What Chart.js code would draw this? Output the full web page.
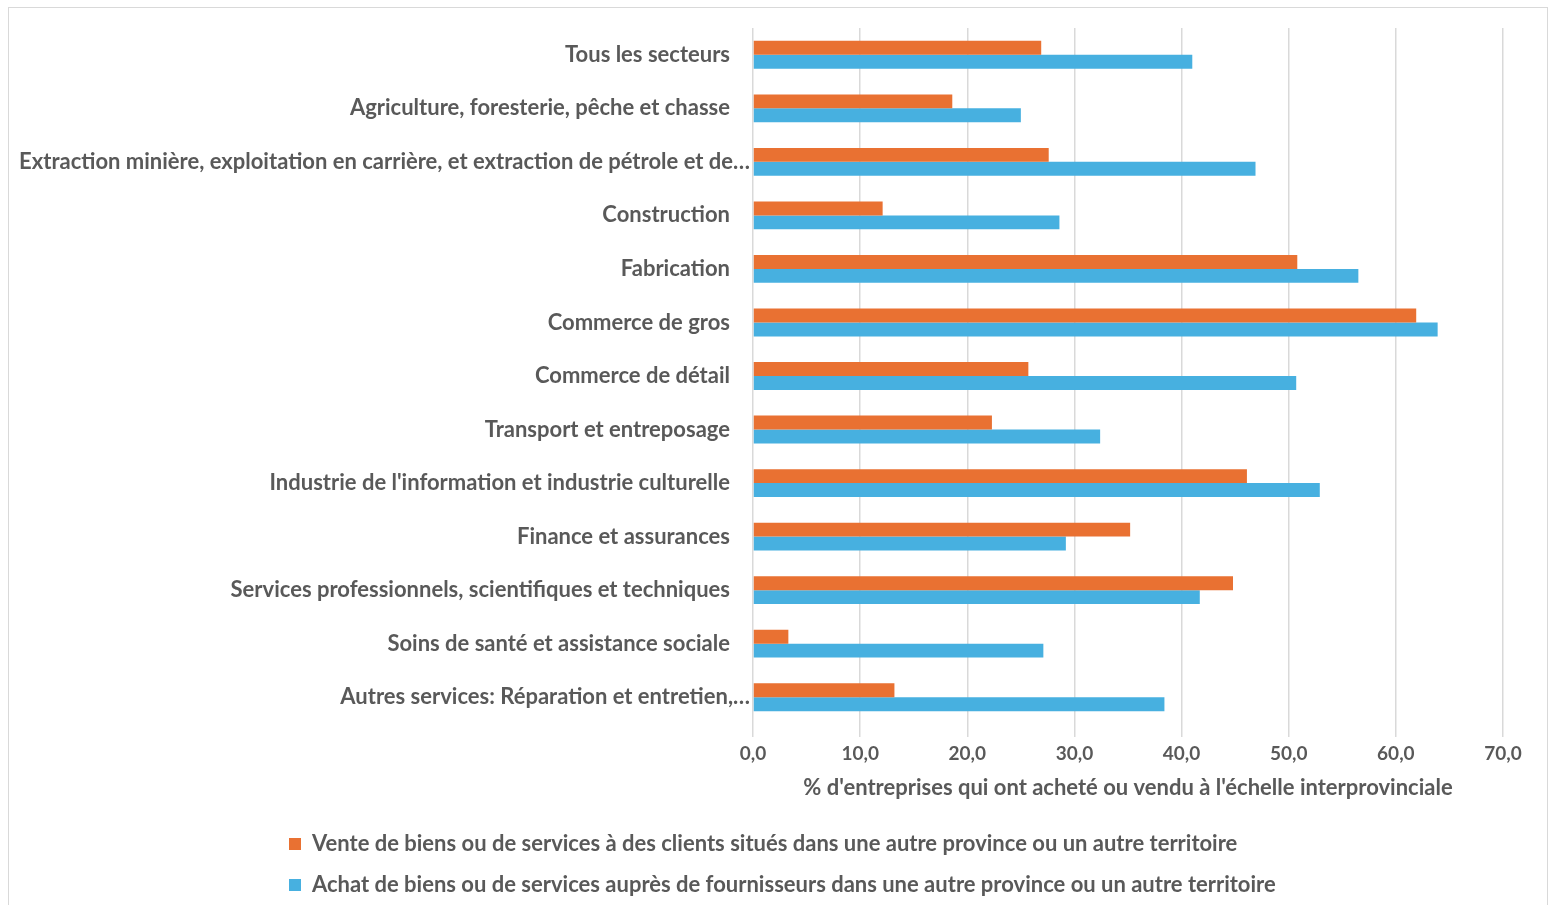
<!DOCTYPE html>
<html lang="fr">
<head>
<meta charset="utf-8">
<script src="https://cdn.jsdelivr.net/npm/chart.js@4/dist/chart.umd.min.js"></script>
<style>
  html, body { margin: 0; padding: 0; background: #fff; }
  #frame {
    position: absolute; left: 8px; top: 7px;
    width: 1538px; height: 910px;
    border: 1px solid #d9d9d9;
  }
  canvas { display: block; }
</style>
</head>
<body>
<div id="frame"><canvas id="tradeChart" width="1538" height="898"></canvas></div>
<script>
// Commerce interprovincial par secteur (% d'entreprises)
const sectors = [
    'Tous les secteurs',
    'Agriculture, foresterie, pêche et chasse',
    'Extraction minière, exploitation en carrière, et extraction de pétrole et de…',
    'Construction',
    'Fabrication',
    'Commerce de gros',
    'Commerce de détail',
    'Transport et entreposage',
    "Industrie de l'information et industrie culturelle",
    'Finance et assurances',
    'Services professionnels, scientifiques et techniques',
    'Soins de santé et assistance sociale',
    'Autres services: Réparation et entretien,…'
];
const ventes = [26.9, 18.6, 27.6, 12.1, 50.8, 61.9, 25.7, 22.3, 46.1, 35.2, 44.8, 3.3, 13.2];
const achats = [41.0, 25.0, 46.9, 28.6, 56.5, 63.9, 50.7, 32.4, 52.9, 29.2, 41.7, 27.1, 38.4];
const xTicks = [0, 10, 20, 30, 40, 50, 60, 70];

const textColor = '#595959';
const fontFamily = 'Lato, "Noto Sans", sans-serif';

// pousse la légende vers la droite comme dans Excel
const legendShift = {
    id: 'legendShift',
    afterLayout(chart) {
        chart.legend.left = 261;
    }
};

// les libellés tronqués (…) débordent un peu vers l'axe, comme dans Excel
const truncatedShift = {
    id: 'truncatedShift',
    beforeDraw(chart) {
        const items = chart.scales.y.getLabelItems();
        items.forEach(item => {
            if (!item._shifted && String(item.label).endsWith('…')) {
                item.options.translation[0] += 20;
                item._shifted = true;
            }
        });
    }
};

document.addEventListener('DOMContentLoaded', () => {
    const ctx = document.getElementById('tradeChart');
    new Chart(ctx, {
        type: 'bar',
        data: {
            labels: sectors,
            datasets: [{
                label: 'Vente de biens ou de services à des clients situés dans une autre province ou un autre territoire',
                data: ventes,
                backgroundColor: '#E97132'
            },
            {
                label: 'Achat de biens ou de services auprès de fournisseurs dans une autre province ou un autre territoire',
                data: achats,
                backgroundColor: '#47B0E0'
            }]
        },
        plugins: [legendShift, truncatedShift],
        options: {
            indexAxis: 'y',
            responsive: false,
            animation: false,
            datasets: {
                bar: { categoryPercentage: 0.52, barPercentage: 1.0 }
            },
            layout: { padding: { top: 20, right: 44, bottom: 0, left: 0 } },
            plugins: {
                tooltip: { enabled: false },
                legend: {
                    position: 'bottom',
                    align: 'start',
                    labels: {
                        color: textColor,
                        boxWidth: 12,
                        boxHeight: 12,
                        padding: 19,
                        font: { family: fontFamily, size: 22, weight: 'bold' }
                    }
                }
            },
            scales: {
                x: {
                    min: 0,
                    max: 70,
                    afterBuildTicks: (scale) => { scale.ticks = xTicks.map(v => ({ value: v })); },
                    afterFit: (scale) => { scale.height = 90; },
                    border: { display: false },
                    grid: { color: '#d9d9d9', lineWidth: 1.5, tickLength: 13, tickColor: '#d9d9d9' },
                    ticks: {
                        color: textColor,
                        padding: 5,
                        font: { family: fontFamily, size: 19, weight: 'bold' },
                        callback: (v) => Number(v).toFixed(1).replace('.', ',')
                    },
                    title: {
                        display: true,
                        text: "% d'entreprises qui ont acheté ou vendu à l'échelle interprovinciale",
                        color: textColor,
                        padding: { top: 4, bottom: 13 },
                        font: { family: fontFamily, size: 22, weight: 'bold' }
                    }
                },
                y: {
                    afterFit: (scale) => {
                        scale.width = 744;
                        scale.paddingTop = 0;
                        scale.paddingBottom = 0;
                    },
                    border: { display: false },
                    grid: { display: false, drawTicks: false },
                    ticks: {
                        color: textColor,
                        padding: 23,
                        autoSkip: false,
                        font: { family: fontFamily, size: 22, weight: 'bold' }
                    }
                }
            }
        }
    });
});
</script>
</body>
</html>
